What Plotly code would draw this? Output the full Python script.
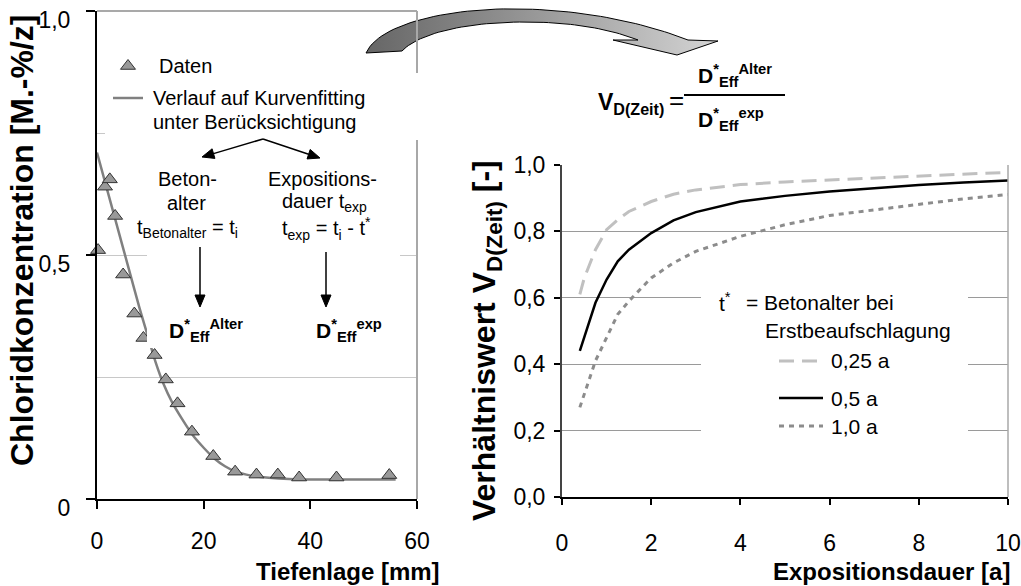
import numpy as np
import plotly.graph_objects as go

W, H = 1021, 586
FONT = "Liberation Sans"

# ---- left panel: chloride profile ----
depth_mm = [0.2, 1.5, 2.4, 3.4, 4.9, 7.0, 8.7, 10.8, 12.9, 15.1, 17.8, 21.8,
            25.9, 29.9, 33.9, 37.9, 44.9, 54.8]
chloride = [0.51, 0.64, 0.655, 0.58, 0.46, 0.38, 0.33, 0.295, 0.245, 0.196,
            0.138, 0.088, 0.056, 0.050, 0.050, 0.044, 0.044, 0.049]

fit_depth = [0, 2, 4, 6, 8, 9.5, 11, 12.5, 14, 16, 18, 20, 22, 24, 26, 28,
             30, 34, 38, 44, 50, 56]
fit_conc = [0.71, 0.63, 0.55, 0.47, 0.39, 0.335, 0.28, 0.235, 0.20, 0.163,
            0.13, 0.105, 0.083, 0.067, 0.056, 0.05, 0.046, 0.042, 0.04, 0.04,
            0.04, 0.04]

# ---- right panel: ratio over exposure time ----
t_exp = [0.4, 0.5, 0.75, 1, 1.25, 1.5, 2, 2.5, 3, 4, 5, 6, 7, 8, 9, 10]
v_025 = [0.61, 0.66, 0.745, 0.805, 0.835, 0.86, 0.89, 0.912, 0.925, 0.941,
         0.949, 0.955, 0.96, 0.968, 0.974, 0.978]
v_05 = [0.44, 0.48, 0.585, 0.655, 0.71, 0.745, 0.795, 0.833, 0.858, 0.89,
        0.907, 0.92, 0.93, 0.94, 0.947, 0.953]
v_10 = [0.27, 0.31, 0.41, 0.48, 0.55, 0.59, 0.66, 0.705, 0.74, 0.785, 0.82,
        0.848, 0.865, 0.883, 0.898, 0.911]

left_yticks = [0, 0.5, 1.0]
left_yticktext = ["0", "0,5", "1,0"]
left_xticks = [0, 20, 40, 60]


def px(x):
    return x / W


def py(y):
    return 1 - y / H


def bez(p0, p1, p2, p3, n=30):
    t = np.linspace(0, 1, n)[:, None]
    p0, p1, p2, p3 = map(np.array, (p0, p1, p2, p3))
    return ((1 - t) ** 3) * p0 + 3 * ((1 - t) ** 2) * t * p1 + 3 * (1 - t) * t ** 2 * p2 + t ** 3 * p3


fig = go.Figure()

# fitted profile and measured points
fig.add_trace(go.Scatter(x=fit_depth, y=fit_conc, mode="lines",
                         line=dict(color="#808080", width=2.5, shape="spline", smoothing=0.6),
                         xaxis="x", yaxis="y", showlegend=False, hoverinfo="skip"))
fig.add_trace(go.Scatter(x=depth_mm, y=chloride, mode="markers",
                         marker=dict(symbol="triangle-up", size=13, color="#999999",
                                     line=dict(color="#333333", width=1)),
                         cliponaxis=False, xaxis="x", yaxis="y", showlegend=False))

# ratio curves
fig.add_trace(go.Scatter(x=t_exp, y=v_025, mode="lines",
                         line=dict(color="#c0c0c0", width=3, dash="15px,8px"),
                         xaxis="x2", yaxis="y2", showlegend=False))
fig.add_trace(go.Scatter(x=t_exp, y=v_05, mode="lines",
                         line=dict(color="black", width=2.5),
                         xaxis="x2", yaxis="y2", showlegend=False))
fig.add_trace(go.Scatter(x=t_exp, y=v_10, mode="lines",
                         line=dict(color="#8c8c8c", width=3, dash="5px,5px"),
                         xaxis="x2", yaxis="y2", showlegend=False))

# curved connector arrow (pixel frame)
outer1 = bez((366, 53), (380, 22), (455, 7), (525, 9))
outer2 = bez((525, 9), (598, 11), (655, 27), (688, 40))
head = np.array([(718, 41), (677, 55), (613, 40), (638, 40)])
inner1 = bez((638, 40), (610, 29), (572, 22), (525, 22))
inner2 = bez((525, 22), (470, 22), (420, 32), (402, 51))
poly = np.vstack([outer1, outer2, head, inner1, inner2, [(366, 53)]])
fig.add_trace(go.Scatter(x=poly[:, 0], y=poly[:, 1], mode="lines", fill="toself",
                         fillgradient=dict(type="horizontal",
                                           colorscale=[[0, "#666666"], [0.5, "#9a9a9a"], [1, "#d4d4d4"]]),
                         line=dict(color="black", width=1),
                         xaxis="x3", yaxis="y3", showlegend=False, hoverinfo="skip"))
# legend symbol for the measured points
fig.add_trace(go.Scatter(x=[128], y=[66], mode="markers",
                         marker=dict(symbol="triangle-up", size=13, color="#999999",
                                     line=dict(color="#333333", width=1)),
                         xaxis="x3", yaxis="y3", showlegend=False, hoverinfo="skip"))

tickfont = dict(family=FONT, size=23, color="black")
common = dict(automargin=False, ticklabeloverflow="allow", zeroline=False, tickfont=tickfont)

fig.update_layout(
    width=W, height=H, autosize=False,
    margin=dict(l=0, r=0, t=0, b=0, pad=0),
    paper_bgcolor="white", plot_bgcolor="rgba(0,0,0,0)",
    separators=",.",
    font=dict(family=FONT, color="black"),
    xaxis=dict(domain=[px(97), px(417)], range=[0, 60], tickvals=left_xticks,
               ticks="outside", ticklen=8, tickwidth=1.5, tickcolor="black",
               showline=True, linecolor="black", linewidth=2, showgrid=False,
               anchor="y", ticklabelstandoff=12, **common),
    yaxis=dict(domain=[py(499), py(11)], range=[0, 1], tickvals=left_yticks,
               ticktext=left_yticktext, ticks="outside", ticklen=9, tickwidth=1.5,
               tickcolor="black", showline=True, linecolor="black", linewidth=2,
               showgrid=True, gridcolor="#c8c8c8", gridwidth=1,
               minor=dict(dtick=0.25, showgrid=True, gridcolor="#c8c8c8", ticks=""),
               anchor="x", ticklabelstandoff=11, ticklabelshift=9, **common),
    xaxis2=dict(domain=[px(562), px(1008)], range=[0, 10], dtick=2, tick0=0,
                ticks="outside", ticklen=6, tickwidth=1.5, tickcolor="black",
                showline=True, linecolor="black", linewidth=2, showgrid=False,
                anchor="y2", ticklabelstandoff=18, **common),
    yaxis2=dict(domain=[py(497), py(165)], range=[0, 1], dtick=0.2, tick0=0,
                tickformat=".1f", ticks="outside", ticklen=6, tickwidth=1.5,
                tickcolor="black", showline=True, linecolor="#444444", linewidth=2,
                showgrid=True, gridcolor="#9a9a9a", gridwidth=1,
                anchor="x2", ticklabelstandoff=4, **common),
    xaxis3=dict(domain=[0, 1], range=[0, W], visible=False, anchor="y3", automargin=False),
    yaxis3=dict(domain=[0, 1], range=[H, 0], visible=False, anchor="x3", automargin=False),
)

shapes = []


def hline(x0, x1, y, color, width, dash=None):
    line = dict(color=color, width=width)
    if dash:
        line["dash"] = dash
    shapes.append(dict(type="line", xref="paper", yref="paper", x0=px(x0), x1=px(x1),
                       y0=py(y), y1=py(y), line=line, layer="above"))


def vline(x, y0, y1, color, width):
    shapes.append(dict(type="line", xref="paper", yref="paper", x0=px(x), x1=px(x),
                       y0=py(y0), y1=py(y1), line=dict(color=color, width=width), layer="above"))


def arrow(x_tail, y_tail, x_head, y_head, length=12, half=5):
    d = np.array([x_head - x_tail, y_head - y_tail], dtype=float)
    d /= np.hypot(*d)
    n = np.array([-d[1], d[0]])
    base = np.array([x_head, y_head]) - d * length
    shapes.append(dict(type="line", xref="paper", yref="paper", x0=px(x_tail), y0=py(y_tail),
                       x1=px(base[0]), y1=py(base[1]),
                       line=dict(color="black", width=1.5), layer="above"))
    a = base + n * half
    b = base - n * half
    path = "M {},{} L {},{} L {},{} Z".format(px(x_head), py(y_head), px(a[0]), py(a[1]),
                                               px(b[0]), py(b[1]))
    shapes.append(dict(type="path", xref="paper", yref="paper", path=path,
                       fillcolor="black", line=dict(color="black", width=1), layer="above"))


# frame lines
hline(97, 417, 11, "#8c8c8c", 1.5)
vline(417, 11, 499, "#a8a8a8", 2)
vline(1008, 165, 497, "#a8a8a8", 1.5)
# white text boxes
for (x0, y0, x1, y1) in [(105, 73, 426, 140), (147, 140, 400, 348), (701, 268, 968, 445)]:
    shapes.append(dict(type="rect", xref="paper", yref="paper", x0=px(x0), x1=px(x1),
                       y0=py(y0), y1=py(y1), fillcolor="white", line=dict(width=0), layer="above"))
# legend line samples
hline(113, 143, 98, "#808080", 2.5)
hline(779, 823, 361, "#c0c0c0", 3, "15px,8px")
hline(779, 823, 398, "black", 2.5)
hline(779, 823, 426, "#8c8c8c", 3, "5px,5px")
# fraction bar
hline(684, 785, 95, "black", 2)
# pointer arrows
arrow(263, 139, 202, 157)
arrow(263, 139, 320, 158)
arrow(200, 247, 200, 307)
arrow(326, 252, 326, 307)
fig.update_layout(shapes=shapes)

ann = []


def text(x, y, s, size=20, xanchor="center", bold=False, angle=0):
    if bold:
        s = "<b>" + s + "</b>"
    ann.append(dict(x=px(x), y=py(y), xref="paper", yref="paper", text=s, showarrow=False,
                    xanchor=xanchor, yanchor="middle", textangle=angle,
                    font=dict(family=FONT, size=size, color="black")))


# axis titles
text(22, 240, "Chloridkonzentration [M.-%/z]", size=32, bold=True, angle=-90)
text(442, 571, "Tiefenlage [mm]", size=24, xanchor="right", bold=True)
text(486, 341, "Verhältniswert V<sub>D(Zeit)</sub> [-]", size=32, bold=True, angle=-90)
text(1012, 571, "Expositionsdauer [a]", size=24, xanchor="right", bold=True)

# left legend
text(157, 66, "Daten", xanchor="left")
text(151, 98, "Verlauf auf Kurvenfitting", xanchor="left")
text(151, 122, "unter Berücksichtigung", xanchor="left")
text(187, 179, "Beton-")
text(186, 203, "alter")
text(187, 229, "t<sub>Betonalter</sub> = t<sub>i</sub>")
text(322, 179, "Expositions-")
text(324, 203, "dauer t<sub>exp</sub>")
text(326, 229, "t<sub>exp</sub> = t<sub>i</sub> - t<sup>*</sup>")

# D*Eff labels
text(167, 330, "D<sup>*</sup><sub>Eff</sub><sup>Alter</sup>", size=21, xanchor="left", bold=True)
text(314, 330, "D<sup>*</sup><sub>Eff</sub><sup>exp</sup>", size=21, xanchor="left", bold=True)

# ratio definition
text(596, 104, "V<sub>D(Zeit)</sub>", size=23, xanchor="left", bold=True)
text(667, 100, "=", size=26, xanchor="left")
text(696, 75, "D<sup>*</sup><sub>Eff</sub><sup>Alter</sup>", size=21, xanchor="left", bold=True)
text(696, 120, "D<sup>*</sup><sub>Eff</sub><sup>exp</sup>", size=21, xanchor="left", bold=True)

# right legend
text(717, 302, "t<sup>*</sup>", size=21, xanchor="left")
text(744, 302, "= Betonalter bei", size=21, xanchor="left")
text(763, 330, "Erstbeaufschlagung", size=21, xanchor="left")
text(829, 361, "0,25 a", size=21, xanchor="left")
text(829, 398, "0,5 a", size=21, xanchor="left")
text(829, 426, "1,0 a", size=21, xanchor="left")

fig.update_layout(annotations=ann)
fig.write_html("out.html")
